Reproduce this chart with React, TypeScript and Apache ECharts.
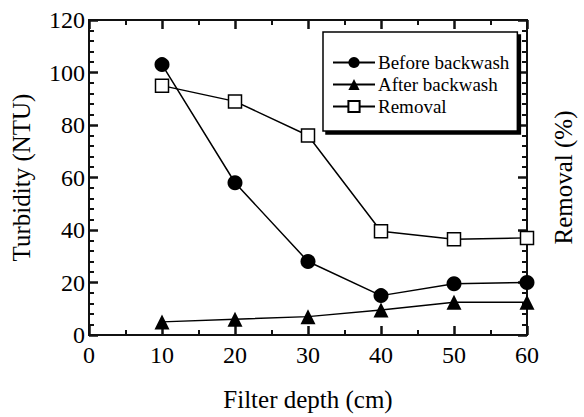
import React, { useEffect, useRef } from "react";
import * as echarts from "echarts";

const depths = [10, 20, 30, 40, 50, 60];
const beforeBackwash = [103, 58, 28, 15, 19.5, 20];
const afterBackwash = [5, 6, 7, 9.5, 12.5, 12.5];
const removal = [95, 89, 76, 39.5, 36.5, 37];

const X_MIN = 0, X_MAX = 60, X_MAJOR = 10;
const Y_MIN = 0, Y_MAX = 120, Y_MAJOR = 20;

const FONT = "Liberation Serif";
const INK = "#111111";

export default function App() {
  const ref = useRef<HTMLDivElement>(null);
  useEffect(() => {
    if (!ref.current) return;
    const chart = echarts.init(ref.current, undefined, { renderer: "svg" });
    const pair = (xs: number[], ys: number[]) => xs.map((x, i) => [x, ys[i]]);
    const txt = (size: number) => ({ fontFamily: FONT, fontSize: size, color: "#000" });
    const axisLine = () => ({ show: true, onZero: false, lineStyle: { color: INK, width: 2 } });
    const tick = () => ({ show: true, inside: true, length: 9, lineStyle: { color: INK, width: 2.5 } });
    const minor = (n: number) => ({ show: true, splitNumber: n, length: 5, lineStyle: { color: INK, width: 2 } });
    const split = () => ({ show: true, lineStyle: { color: "rgba(255,255,255,0)", width: 1 } });

    chart.setOption({
      animation: false,
      backgroundColor: "#fff",
      textStyle: { fontFamily: FONT, color: "#000" },
      grid: { show: true, left: 89, right: 47, top: 20, bottom: 76, borderColor: INK, borderWidth: 2, backgroundColor: "rgba(255,255,255,0)" },
      legend: {
        orient: "vertical",
        left: 323,
        top: 32,
        padding: [21, 8, 15, 9],
        itemWidth: 42,
        itemHeight: 14,
        itemGap: 3,
        borderColor: "#000",
        borderWidth: 1.5,
        backgroundColor: "#fff",
        shadowColor: "#000",
        shadowBlur: 0,
        shadowOffsetX: 3,
        shadowOffsetY: 3,
        textStyle: { ...txt(19), padding: [0, 0, 0, -2] },
        data: ["Before backwash", "After backwash", "Removal"],
      },
      xAxis: [
        {
          type: "value",
          min: X_MIN,
          max: X_MAX,
          interval: X_MAJOR,
          name: "Filter depth (cm)",
          nameLocation: "middle",
          nameGap: 52,
          nameTextStyle: txt(25),
          axisLine: axisLine(),
          axisTick: tick(),
          minorTick: minor(2),
          splitLine: split(),
          axisLabel: { ...txt(24), margin: 8 },
        },
        {
          type: "value",
          position: "top",
          min: X_MIN,
          max: X_MAX,
          interval: X_MAJOR,
          axisLine: axisLine(),
          axisTick: tick(),
          minorTick: minor(2),
          splitLine: split(),
          axisLabel: { show: true, color: "rgba(255,255,255,0)", fontSize: 1 },
        },
      ],
      yAxis: [
        {
          type: "value",
          min: Y_MIN,
          max: Y_MAX,
          interval: Y_MAJOR,
          name: "Turbidity (NTU)",
          nameLocation: "middle",
          nameGap: 55,
          nameTextStyle: txt(25),
          axisLine: axisLine(),
          axisTick: tick(),
          minorTick: minor(5),
          splitLine: split(),
          axisLabel: { ...txt(24), margin: 4 },
        },
        {
          type: "value",
          position: "right",
          min: Y_MIN,
          max: Y_MAX,
          interval: Y_MAJOR,
          name: "Removal (%)",
          nameLocation: "middle",
          nameGap: 24,
          nameRotate: 90,
          nameTextStyle: txt(25),
          axisLine: axisLine(),
          axisTick: tick(),
          minorTick: minor(5),
          splitLine: split(),
          axisLabel: { show: true, color: "rgba(255,255,255,0)", fontSize: 1 },
        },
      ],
      series: [
        {
          name: "Before backwash",
          type: "line",
          data: pair(depths, beforeBackwash),
          symbol: "circle",
          symbolSize: 15,
          lineStyle: { color: "#000", width: 1.5 },
          itemStyle: { color: "#000" },
        },
        {
          name: "After backwash",
          type: "line",
          data: pair(depths, afterBackwash),
          symbol: "triangle",
          symbolSize: 15,
          lineStyle: { color: "#000", width: 1.5 },
          itemStyle: { color: "#000" },
        },
        {
          name: "Removal",
          type: "line",
          yAxisIndex: 1,
          data: pair(depths, removal),
          symbol: "rect",
          symbolSize: 13,
          lineStyle: { color: "#000", width: 1.5 },
          itemStyle: { color: "#fff", borderColor: "#000", borderWidth: 1.5 },
        },
      ],
    });
    return () => chart.dispose();
  }, []);
  return <div ref={ref} style={{ width: 584, height: 417, position: "absolute", left: 0, top: 0 }} />;
}
